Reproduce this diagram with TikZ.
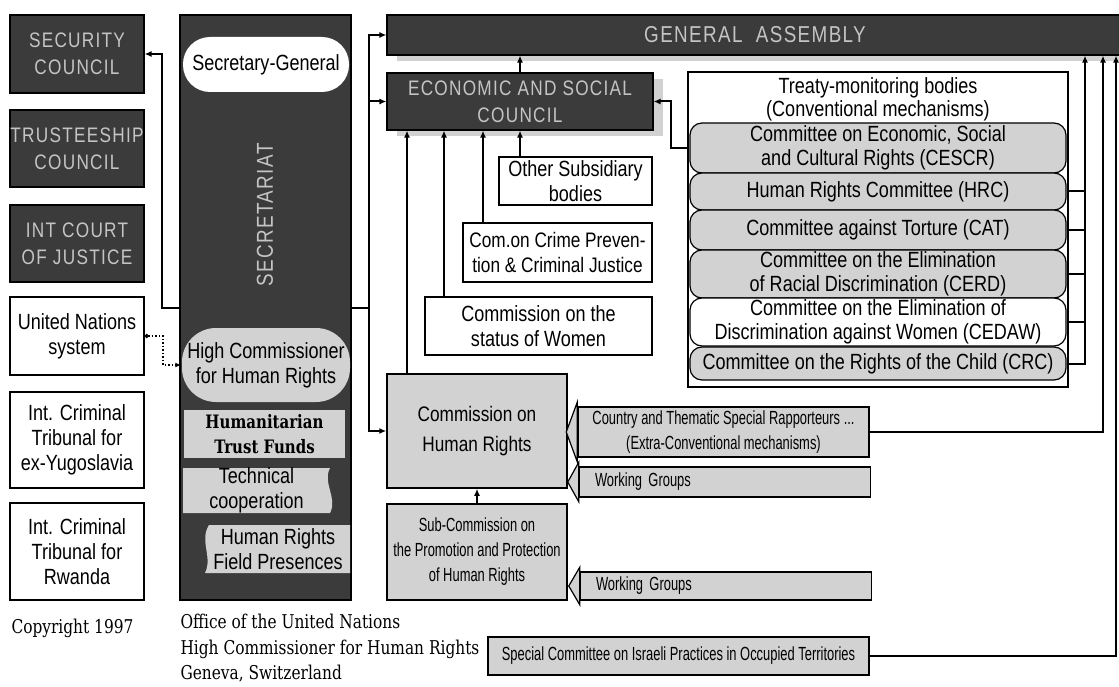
\documentclass[tikz,border=0pt]{standalone}
\usepackage{fontspec}
\setmainfont[FakeStretch=0.82]{Liberation Sans}
\newfontfamily\capsfont[FakeStretch=0.82, LetterSpace=6]{Liberation Sans}
\newfontfamily\slimfont[FakeStretch=0.68]{Liberation Sans}
\newfontfamily\oldserif[FakeStretch=0.81]{DejaVu Serif}
\usetikzlibrary{arrows.meta, shadows}

\definecolor{darkfill}{HTML}{3B3B3B}
\definecolor{capgray}{HTML}{C4C4C4}
\definecolor{boxgray}{HTML}{D2D2D2}

\tikzset{
  wh/.style 2 args={minimum width=#1pt, minimum height=#2pt},
  darkbox/.style={draw=black, line width=1.2pt, fill=darkfill, text=capgray, inner sep=0pt, align=center, font=\capsfont\fontsize{21}{27}\selectfont},
  whitebox/.style={draw=black, line width=1.5pt, fill=white, inner sep=0pt, align=center, font=\fontsize{22}{25}\selectfont},
  graybox/.style={whitebox, fill=boxgray},
  smallbox/.style={graybox, font=\slimfont\fontsize{19}{25}\selectfont},
  committee/.style={graybox, line width=1.2pt, rounded corners=12pt, font=\fontsize{22}{24}\selectfont},
  softshadow/.style={drop shadow={shadow xshift=10pt, shadow yshift=-6pt, fill=black!18, opacity=1}},
  link/.style={line width=2pt},
  arr/.style={line width=2pt, -{Latex[length=7pt, width=6pt]}},
  footer/.style={font=\oldserif\fontsize{19}{25.5}\selectfont, align=left},
}

\begin{document}
\begin{tikzpicture}[x=1pt, y=-1pt]
    \useasboundingbox (0,0) rectangle (1119,687);

    % left column
    \node[darkbox, wh={134}{78}] (sec) at (77,54) {SECURITY\\COUNCIL};
    \node[darkbox, wh={134}{77}] (trust) at (77,148.5) {TRUSTEESHIP\\COUNCIL};
    \node[darkbox, wh={134}{77}] (icj) at (77,243.5) {INT COURT\\OF JUSTICE};
    \node[whitebox, wh={134}{78}] (unsys) at (77,336) {United Nations\\system};
    \node[whitebox, wh={134}{96}] (icty) at (77,440) {Int. Criminal\\Tribunal for\\ex-Yugoslavia};
    \node[whitebox, wh={134}{97}] (ictr) at (77,551.5) {Int. Criminal\\Tribunal for\\Rwanda};
    \node[footer, anchor=west] (copy) at (8,628) {Copyright 1997};

    % secretariat
    \node[darkbox, wh={171}{585}] (secr) at (265.5,307.5) {};
    \node[whitebox, draw=none, rounded corners=27pt, wh={166}{55}] (sg) at (266,64.5) {Secretary-General};
    \node[rotate=90, text=capgray, font=\capsfont\fontsize{23}{24}\selectfont] (secrlabel) at (265,215) {SECRETARIAT};
    \node[graybox, draw=none, rounded corners=34pt, wh={168}{74}] (hchr) at (266,365) {High Commissioner\\for Human Rights};
    \node[graybox, draw=none, wh={161}{48}, font=\oldserif\bfseries\fontsize{18.5}{25}\selectfont] (funds) at (264.5,434) {Humanitarian\\Trust Funds};
    \fill[boxgray] (183,468) -- (330,468) .. controls (322,483) and (338,498) .. (330,513) -- (183,513) -- cycle;
    \fill[boxgray] (209,525) -- (350,525) -- (350,573) -- (205,573) .. controls (213,557) and (199,541) .. (209,525) -- cycle;
    \node[whitebox, draw=none, fill=none, wh={147}{45}] (tech) at (256.5,490.5) {Technical\\cooperation};
    \node[whitebox, draw=none, fill=none, wh={147}{48}] (field) at (278,549) {Human Rights\\Field Presences};
    \node[footer, anchor=north west] (office) at (177,611) {Office of the United Nations\\High Commissioner for Human Rights\\Geneva, Switzerland};

    % general assembly and its bodies
    \node[darkbox, softshadow, wh={736}{40}, font=\capsfont\fontsize{23}{24}\selectfont] (ga) at (755,35) {GENERAL\ \ ASSEMBLY};
    \node[darkbox, softshadow, wh={266}{57}] (ecosoc) at (520,101.5) {ECONOMIC AND SOCIAL\\COUNCIL};
    \node[whitebox, wh={153}{48}] (other) at (575.5,181) {Other Subsidiary\\bodies};
    \node[whitebox, wh={189}{59}, font=\fontsize{21}{25}\selectfont] (crime) at (557.5,252.5) {Com.on Crime Preven-\\tion \& Criminal Justice};
    \node[whitebox, wh={227}{58}] (women) at (538.5,326) {Commission on the\\status of Women};
    \node[graybox, wh={180}{114}, font=\fontsize{21}{30}\selectfont] (chr) at (477,431) {Commission on\\Human Rights};
    \node[smallbox, wh={180}{96}] (subc) at (477,552) {Sub-Commission on\\the Promotion and Protection\\of Human Rights};
    \node[smallbox, wh={291}{50}] (rapp) at (723.5,432) {Country and Thematic Special Rapporteurs ...\\(Extra-Conventional mechanisms)};
    \node[smallbox, wh={291}{30}, text width=260pt, align=left] (wg1) at (725,482) {Working Groups};
    \node[smallbox, wh={291}{28}, text width=260pt, align=left] (wg2) at (726,586) {Working Groups};
    \node[smallbox, wh={381}{38}] (israeli) at (678.5,656) {Special Committee on Israeli Practices in Occupied Territories};

    \draw[line width=1.2pt, fill=boxgray] ([yshift=4pt]rapp.north west) -- ([xshift=-11pt]rapp.west) -- ([yshift=-4pt]rapp.south west) -- cycle;
    \draw[line width=1.2pt, fill=boxgray] ([yshift=4pt]wg1.north west) -- ([xshift=-11pt]wg1.west) -- ([yshift=-4pt]wg1.south west) -- cycle;
    \draw[line width=1.2pt, fill=boxgray] ([yshift=4pt]wg2.north west) -- ([xshift=-11pt]wg2.west) -- ([yshift=-4pt]wg2.south west) -- cycle;

    % treaty bodies
    \node[draw=black, line width=2.5pt, fill=white, wh={380}{315}] (treaty) at (878,229.5) {};
    \node[align=center, font=\fontsize{22}{23}\selectfont] (treatytitle) at (878,99) {Treaty-monitoring bodies\\(Conventional mechanisms)};
    \node[committee, wh={376}{50}] (cescr) at (878,148) {Committee on Economic, Social\\and Cultural Rights (CESCR)};
    \node[committee, wh={376}{37}] (hrc) at (878,191.5) {Human Rights Committee (HRC)};
    \node[committee, wh={376}{40}] (cat) at (878,230) {Committee against Torture (CAT)};
    \node[committee, wh={376}{48}] (cerd) at (878,274) {Committee on the Elimination\\of Racial Discrimination (CERD)};
    \node[committee, fill=white, wh={376}{48}] (cedaw) at (878,322) {Committee on the Elimination of\\Discrimination against Women (CEDAW)};
    \node[committee, wh={376}{33}] (crc) at (878,363.5) {Committee on the Rights of the Child (CRC)};

    % connectors
    \draw[arr] (secr.west) -- ++(-17,0) |- (sec.east);
    \draw[link] (secr.east) -- ++(17,0) coordinate (sbus);
    \draw[arr] (sbus) |- (ga.west);
    \draw[arr] (sbus) |- (ecosoc.west);
    \draw[arr] (sbus) |- (chr.west);
    \draw[line width=1.5pt, dotted, {Circle[length=4pt]}-{Latex[length=6pt, width=5pt]}] (unsys.east) -- ++(18,0) |- (hchr.west);

    \draw[arr] (ecosoc.north) -- (ecosoc.north |- ga.south);
    \draw[arr] ([xshift=-113pt]ecosoc.south |- chr.north) -- ([xshift=-113pt]ecosoc.south);
    \draw[arr] ([xshift=-76pt]ecosoc.south |- women.north) -- ([xshift=-76pt]ecosoc.south);
    \draw[arr] ([xshift=-37pt]ecosoc.south |- crime.north) -- ([xshift=-37pt]ecosoc.south);
    \draw[arr] (ecosoc.south |- other.north) -- (ecosoc.south);
    \draw[arr] (subc.north) -- (chr.south);
    \draw[arr] (treaty.west |- cescr.west) -- ++(-16,0) |- (ecosoc.east);

    \coordinate (tbus) at (1085,363.5);
    \coordinate (rbus) at (1103,432);
    \coordinate (ibus) at (1116,656);
    \draw[arr] (crc.east) -- (tbus) -- (tbus |- ga.south);
    \draw[link] (hrc.east) -- (hrc.east -| tbus);
    \draw[link] (cat.east) -- (cat.east -| tbus);
    \draw[link] (cerd.east) -- (cerd.east -| tbus);
    \draw[link] (cedaw.east) -- (cedaw.east -| tbus);
    \draw[arr] (rapp.east) -- (rbus) -- (rbus |- ga.south);
    \draw[arr] (israeli.east) -- (ibus) -- (ibus |- ga.south);
\end{tikzpicture}
\end{document}
